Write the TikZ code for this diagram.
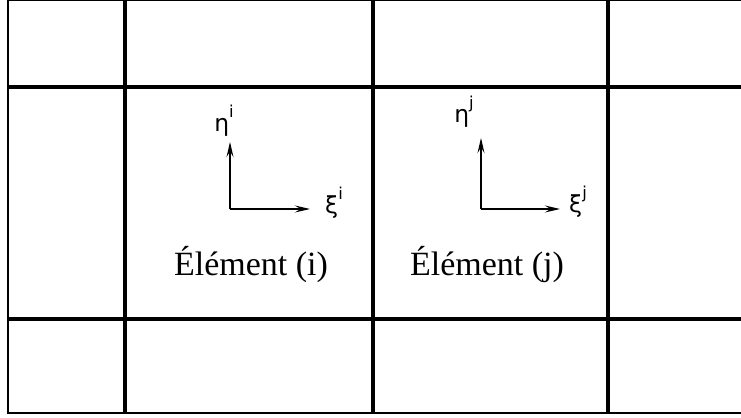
\documentclass[tikz,border=0pt]{standalone}
\usepackage{fontspec}
\setmainfont{Liberation Serif}
\newfontfamily\grkfont{DejaVu Sans}
\usetikzlibrary{arrows.meta}

\newcommand{\axsup}[1]{\raisebox{1.1ex}{\fontsize{14}{16}\selectfont #1}}

\tikzset{
  gridline/.style={line width=3.2pt},
  frameline/.style={line width=1pt},
  axisarrow/.style={line width=0.9pt,-{Stealth[length=13pt,width=6pt,inset=5pt]}},
  elemlabel/.style={font=\fontsize{29}{34}\selectfont},
  axislabel/.style={font=\grkfont\fontsize{20}{24}\selectfont}
}

\begin{document}
\begin{tikzpicture}[x=0.03cm,y=-0.03cm]
  \useasboundingbox (0,0) rectangle (741,417);
  % outer frame
  \draw[frameline] (741,0.5) -- (8,0.5) -- (8,413) -- (741,413);
  % grid
  \foreach \x in {125,373,608} {
    \draw[gridline] (\x,0) -- (\x,413);
  }
  \foreach \y in {87,319} {
    \draw[gridline] (8,\y) -- (741,\y);
  }
  % element (i)
  \coordinate (oi) at (230,209);
  \coordinate (ui) at (230,142);
  \coordinate (ri) at (310,209);
  \node[axislabel] (etai) at (224,121) {η\axsup{i}};
  \node[axislabel] (xii) at (334,203) {ξ\axsup{i}};
  \draw[axisarrow] (oi) -- (ui);
  \draw[axisarrow] (oi) -- (ri);
  \node[elemlabel] (elemi) at (251,265) {Élément (i)};
  % element (j)
  \coordinate (oj) at (481,209);
  \coordinate (uj) at (481,138);
  \coordinate (rj) at (560,209);
  \node[axislabel] (etaj) at (464,112) {η\axsup{j}};
  \node[axislabel] (xij) at (578,202) {ξ\axsup{j}};
  \draw[axisarrow] (oj) -- (uj);
  \draw[axisarrow] (oj) -- (rj);
  \node[elemlabel] (elemj) at (487,265) {Élément (j)};
\end{tikzpicture}
\end{document}
